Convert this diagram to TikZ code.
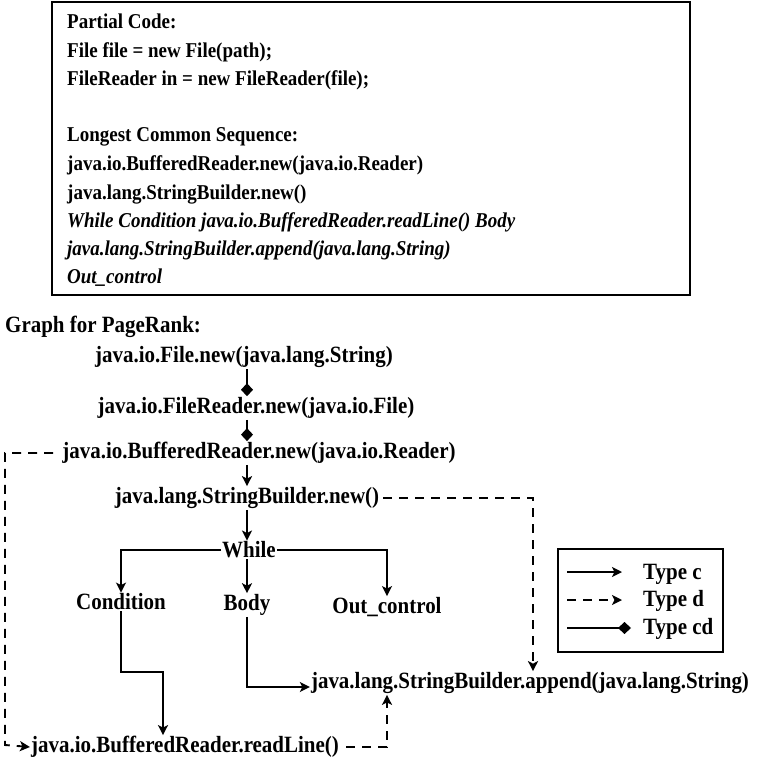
\documentclass[tikz,border=0pt]{standalone}
\usepackage{fontspec}
\setmainfont{Liberation Serif}[FakeStretch=0.9]
\usetikzlibrary{arrows.meta}

\begin{document}
\begin{tikzpicture}[x=1pt,y=-1pt,
  codeline/.style={anchor=base west, inner sep=0pt, font=\bfseries\fontsize{21.1}{25}\selectfont},
  codeit/.style={codeline, font=\bfseries\itshape\fontsize{21.1}{25}\selectfont},
  lbl/.style={inner xsep=1pt, inner ysep=1pt, font=\bfseries\fontsize{23.3}{27}\selectfont},
  conn/.style={line width=1.9pt, -{Stealth[length=10pt,width=10pt,inset=2.5pt]}},
  dep/.style={conn, dash pattern=on 9pt off 7pt},
  cdep/.style={line width=1.9pt, -{Diamond[length=13pt,width=12pt]}},
  frame/.style={line width=2.4pt}
]
\useasboundingbox (0,0) rectangle (757,760);

% code box
\draw[frame] (52,2) rectangle (690,295);
\node[codeline] (l1) at (67,29)  {Partial Code:};
\node[codeline] (l2) at (67,57)  {File file = new File(path);};
\node[codeline] (l3) at (67,85)  {FileReader in = new FileReader(file);};
\node[codeline] (l4) at (67,141) {Longest Common Sequence:};
\node[codeline] (l5) at (67,170) {java.io.BufferedReader.new(java.io.Reader)};
\node[codeline] (l6) at (67,199) {java.lang.StringBuilder.new()};
\node[codeit]   (l7) at (67,227) {While Condition java.io.BufferedReader.readLine() Body};
\node[codeit]   (l8) at (67,255) {java.lang.StringBuilder.append(java.lang.String)};
\node[codeit]   (l9) at (67,283) {Out\_control};

% graph
\node[lbl, anchor=west] (title) at (4,327) {Graph for PageRank:};
\node[lbl] (file)     at (244,357) {java.io.File.new(java.lang.String)};
\node[lbl] (freader)  at (256,408) {java.io.FileReader.new(java.io.File)};
\node[lbl] (breader)  at (259,453) {java.io.BufferedReader.new(java.io.Reader)};
\node[lbl] (sbnew)    at (247,498) {java.lang.StringBuilder.new()};
\node[lbl] (while)    at (249,550) {While};
\node[lbl] (cond)     at (121,602) {Condition};
\node[lbl] (body)     at (247,605) {Body};
\node[lbl] (outc)     at (387,607) {Out\_control};
\node[lbl] (append)   at (530,683) {java.lang.StringBuilder.append(java.lang.String)};
\node[lbl] (readline) at (185,747) {java.io.BufferedReader.readLine()};

\draw[cdep] (file.south -| sbnew) -- (freader.north -| sbnew);
\draw[cdep] (freader.south -| sbnew) -- (breader.north -| sbnew);
\draw[conn] (breader.south -| sbnew) -- (sbnew.north);
\draw[conn] (sbnew.south) -- (while.north -| sbnew);
\draw[conn] (while.west) -| (cond.north);
\draw[conn] (while.east) -| (outc.north);
\draw[conn] (while.south -| body) -- (body.north);
\draw[conn] (body.south) |- ([yshift=-4pt]append.west);
\draw[conn] (cond.south) |- (163,672) -- (163,0 |- readline.north);

\draw[dep] ([xshift=-8pt]breader.west) -- (5,453) -- (5,745) -- (readline.west);
\draw[dep] ([xshift=3pt]sbnew.east) -| (533,0 |- append.north);
\draw[dep] ([xshift=6pt]readline.east) -| (387,0 |- append.south);

% legend
\draw[line width=2pt] (558,549) rectangle (723,652);
\draw[conn] (567,572) -- (622,572);
\draw[dep]  (567,600) -- (622,600);
\draw[cdep] (567,628) -- (631,628);
\node[lbl, anchor=west] (tc)  at (642,574) {Type c};
\node[lbl, anchor=west] (td)  at (642,601) {Type d};
\node[lbl, anchor=west] (tcd) at (642,629) {Type cd};
\end{tikzpicture}
\end{document}
